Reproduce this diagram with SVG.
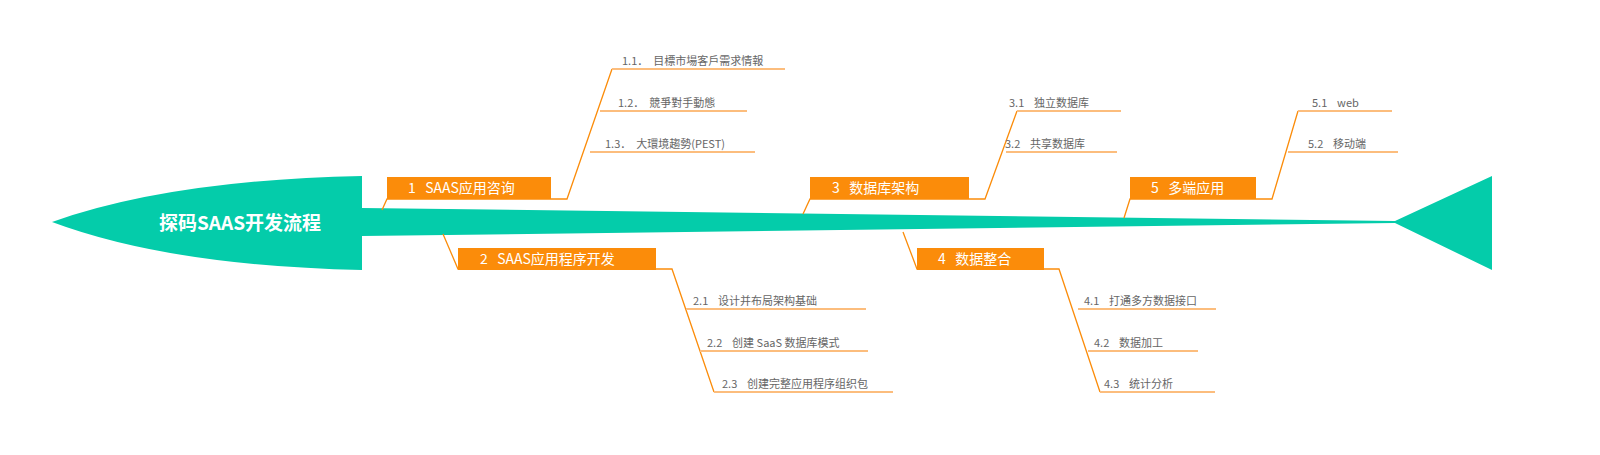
<svg xmlns="http://www.w3.org/2000/svg" width="1600" height="455" viewBox="0 0 1600 455">
<style>
text{white-space:pre}
.sub{font-family:"Noto Sans CJK SC","Noto Sans",sans-serif;font-size:11px;fill:#666}
.bt{font-family:"Noto Sans CJK SC","Noto Sans",sans-serif;font-size:14px;fill:#fff}
.box{fill:#fb8c0a}
.ln{stroke:#fb8c0a;stroke-width:1.3;fill:none}
.ul{stroke:#fcbd7d;stroke-width:2;fill:none}
</style>
<rect width="1600" height="455" fill="#fff"/>
<g id="spine">
<path d="M52,222 Q170,180 362,176 L362,208 L1395,221 L1492,176 L1492,270 L1395,223 L362,236 L362,270 Q170,266 52,222 Z" fill="#04ccaa"/>
<text x="240" y="230" font-family="'Noto Sans CJK SC',sans-serif" font-size="19" font-weight="bold" fill="#fff" text-anchor="middle">探码SAAS开发流程</text>
</g>
<g id="connectors">
<path class="ln" d="M382,210 L387,199 L567,199 L612,69"/>
<path class="ln" d="M443,234 L458,269 L672,269 L714,392"/>
<path class="ln" d="M803,214 L810,199 L985,199 L1017,111"/>
<path class="ln" d="M903,232 L917,269 L1059,269 L1100,392"/>
<path class="ln" d="M1124,218 L1130,199 L1272,199 L1298,111"/>
<path class="ul" d="M612,69 H785 M600,111 H747 M590,152 H755 M686,309 H866 M700,351 H868 M714,392 H893 M1017,111 H1121 M1006,152 H1117 M1078,309 H1216 M1088,351 H1198 M1100,392 H1215 M1298,111 H1392 M1288,152 H1398"/>
</g>
<g id="n1"><rect class="box" x="387" y="177" width="164" height="22"/><text class="bt" x="408" y="193">1   SAAS应用咨询</text></g>
<g id="n2"><rect class="box" x="458" y="248" width="198" height="22"/><text class="bt" x="480" y="264">2   SAAS应用程序开发</text></g>
<g id="n3"><rect class="box" x="810" y="177" width="159" height="22"/><text class="bt" x="832" y="193">3   数据库架构</text></g>
<g id="n4"><rect class="box" x="917" y="248" width="127" height="22"/><text class="bt" x="938" y="264">4   数据整合</text></g>
<g id="n5"><rect class="box" x="1130" y="177" width="126" height="22"/><text class="bt" x="1151" y="193">5   多端应用</text></g>
<g id="n11"><text class="sub" x="622" y="65">1.1．  目標市場客戶需求情報</text></g>
<g id="n12"><text class="sub" x="618" y="107">1.2．  競爭對手動態</text></g>
<g id="n13"><text class="sub" x="605" y="148">1.3．  大環境趨勢(PEST)</text></g>
<g id="n21"><text class="sub" x="693" y="305">2.1    设计并布局架构基础</text></g>
<g id="n22"><text class="sub" x="707" y="347">2.2    创建 SaaS 数据库模式</text></g>
<g id="n23"><text class="sub" x="722" y="388">2.3    创建完整应用程序组织包</text></g>
<g id="n31"><text class="sub" x="1009" y="107">3.1    独立数据库</text></g>
<g id="n32"><text class="sub" x="1005" y="148">3.2    共享数据库</text></g>
<g id="n41"><text class="sub" x="1084" y="305">4.1    打通多方数据接口</text></g>
<g id="n42"><text class="sub" x="1094" y="347">4.2    数据加工</text></g>
<g id="n43"><text class="sub" x="1104" y="388">4.3    统计分析</text></g>
<g id="n51"><text class="sub" x="1312" y="107">5.1    web</text></g>
<g id="n52"><text class="sub" x="1308" y="148">5.2    移动端</text></g>
</svg>
